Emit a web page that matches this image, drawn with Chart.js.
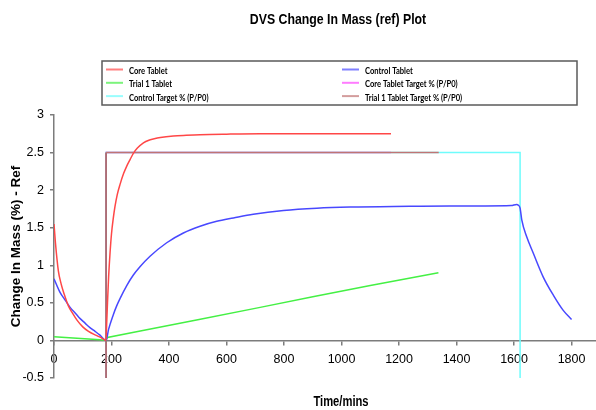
<!DOCTYPE html>
<html>
<head>
<meta charset="utf-8">
<script src="https://cdn.jsdelivr.net/npm/chart.js@4.4.0/dist/chart.umd.min.js"></script>
<style>
  html, body { margin: 0; padding: 0; background: #fff; }
</style>
</head>
<body>
<canvas id="chart" width="596" height="410"></canvas>
<script>
// Core Tablet (time in mins / change in mass %)
const coreTime = [0, 5, 15, 25, 35, 50, 65, 80, 100, 120, 145, 165, 181, 183, 186, 190, 195, 200, 206, 212, 220, 230, 242, 253, 265, 276, 290, 311, 330, 345, 370, 415, 460, 508, 600, 717, 850, 1000, 1172];
const coreMass = [1.55, 1.3, 0.93, 0.75, 0.62, 0.46, 0.36, 0.27, 0.18, 0.12, 0.07, 0.035, 0.0, 0.2, 0.5, 0.85, 1.17, 1.42, 1.62, 1.78, 1.94, 2.08, 2.22, 2.32, 2.41, 2.49, 2.56, 2.63, 2.665, 2.68, 2.70, 2.72, 2.73, 2.738, 2.745, 2.75, 2.75, 2.75, 2.75];

// Control Tablet
const controlTime = [0, 21, 40, 56, 75, 91, 108, 125, 143, 160, 181, 190, 206, 218, 230, 253, 276, 299, 334, 392, 450, 508, 566, 624, 693, 798, 914, 1030, 1238, 1377, 1500, 1590, 1609, 1615, 1621, 1627, 1644, 1667, 1702, 1737, 1771, 1800];
const controlMass = [0.82, 0.64, 0.53, 0.44, 0.36, 0.29, 0.23, 0.17, 0.12, 0.07, 0.0, 0.15, 0.34, 0.46, 0.56, 0.73, 0.87, 0.98, 1.12, 1.30, 1.43, 1.52, 1.585, 1.63, 1.68, 1.73, 1.76, 1.775, 1.785, 1.79, 1.79, 1.795, 1.81, 1.8, 1.76, 1.6, 1.38, 1.16, 0.84, 0.6, 0.4, 0.28];

// Trial 1 Tablet
const trialTime = [0, 40, 80, 120, 160, 181, 186, 300, 500, 717, 900, 1100, 1337];
const trialMass = [0.05, 0.04, 0.03, 0.02, 0.01, 0.0, 0.04, 0.125, 0.275, 0.44, 0.58, 0.73, 0.9];

// target % (P/P0) steps
const coreTargetTime = [181, 181, 1172];
const coreTargetMass = [-0.5, 2.5, 2.5];
const controlTargetTime = [181, 181, 1621, 1621];
const controlTargetMass = [-0.5, 2.5, 2.5, -0.5];
const trialTargetTime = [181, 181, 1338];
const trialTargetMass = [-0.5, 2.5, 2.5];

const xTicks = [0, 200, 400, 600, 800, 1000, 1200, 1400, 1600, 1800];
const yTicks = [-0.5, 0, 0.5, 1, 1.5, 2, 2.5, 3];

const legendRows = [
    ['Core Tablet', 'Control Tablet'],
    ['Trial 1 Tablet', 'Core Tablet Target % (P/P0)'],
    ['Control Target % (P/P0)', 'Trial 1 Tablet Target % (P/P0)']
];

const toPoints = (t, v) => t.map((x, i) => ({ x: x, y: v[i] }));

const line = (label, t, v, color, order) => ({
    label: label,
    data: toPoints(t, v),
    borderColor: color,
    borderWidth: 1.5,
    pointRadius: 0,
    fill: false,
    cubicInterpolationMode: 'monotone',
    order: order
});

const datasets = [
    line('Core Tablet', coreTime, coreMass, '#ff4747', 0),
    line('Control Tablet', controlTime, controlMass, '#4848ff', 0),
    line('Trial 1 Tablet', trialTime, trialMass, '#44f044', 0),
    line('Core Tablet Target % (P/P0)', coreTargetTime, coreTargetMass, '#ff44ff', 3),
    line('Control Target % (P/P0)', controlTargetTime, controlTargetMass, '#6ffcfc', 2),
    line('Trial 1 Tablet Target % (P/P0)', trialTargetTime, trialTargetMass, '#c07474', 1)
];
// straight segments for the trial line and the target steps
datasets.slice(2).forEach(d => { d.cubicInterpolationMode = 'default'; d.tension = 0; });
// the shared vertical step at the start reads redder in the source
datasets[5].segment = {
    borderColor: (c) => c.p0.parsed.x === c.p1.parsed.x ? '#b85050' : undefined
};

// draws squeezed text (the source image is a bit narrow horizontally)
const squeeze = (ctx, text, x, y, sx) => {
    ctx.save();
    ctx.translate(x, y);
    ctx.scale(sx, 1);
    ctx.fillText(text, 0, 0);
    ctx.restore();
};

const background = {
    id: 'background',
    beforeDraw(chart) {
        const { ctx } = chart;
        ctx.save();
        ctx.fillStyle = '#ffffff';
        ctx.fillRect(0, 0, chart.width, chart.height);
        ctx.restore();
    }
};

const titlesAndLegend = {
    id: 'titlesAndLegend',
    afterDraw(chart) {
        const { ctx } = chart;
        ctx.save();
        ctx.fillStyle = '#000000';
        ctx.textAlign = 'center';
        ctx.textBaseline = 'alphabetic';

        ctx.font = 'bold 15px "Liberation Sans"';
        squeeze(ctx, 'DVS Change In Mass (ref) Plot', 338, 24, 0.82);

        ctx.font = 'bold 14px "Liberation Sans"';
        squeeze(ctx, 'Time/mins', 341, 406, 0.8);

        // legend box
        const box = { left: 102, top: 61, width: 475, height: 44 };
        ctx.strokeStyle = '#5a5a5a';
        ctx.lineWidth = 1.5;
        ctx.strokeRect(box.left, box.top, box.width, box.height);

        const colX = [106, 342];
        ctx.font = 'bold 9.5px Lato';
        ctx.textAlign = 'left';
        ctx.textBaseline = 'middle';
        legendRows.forEach((row, r) => {
            const y = 69.5 + r * 13.3;
            row.forEach((label, c) => {
                const ds = chart.data.datasets.find(d => d.label === label);
                ctx.strokeStyle = ds.borderColor;
                ctx.globalAlpha = 0.7;
                ctx.lineWidth = 2;
                ctx.beginPath();
                ctx.moveTo(colX[c], y);
                ctx.lineTo(colX[c] + 17, y);
                ctx.stroke();
                ctx.globalAlpha = 1;
                squeeze(ctx, label, colX[c] + 23, y + 1.5, 0.8);
            });
        });
        ctx.restore();
    }
};

const axisColor = '#7c7c7c';
const tickFont = { family: '"Liberation Sans"', size: 12.5 };

new Chart(document.getElementById('chart'), {
    type: 'line',
    data: { datasets: datasets },
    options: {
        responsive: false,
        animation: false,
        devicePixelRatio: 1,
        layout: { padding: { top: 115, left: 0, right: 0, bottom: 32 } },
        plugins: {
            legend: { display: false },
            title: { display: false },
            tooltip: { enabled: false }
        },
        scales: {
            x: {
                type: 'linear',
                position: { y: 0 },
                min: 0,
                max: 1885,
                afterBuildTicks: (scale) => { scale.ticks = xTicks.map(v => ({ value: v })); },
                grid: { drawOnChartArea: false, tickLength: 4, color: axisColor, lineWidth: 1.5 },
                border: { color: axisColor, width: 1.5 },
                ticks: {
                    color: '#000000',
                    font: tickFont,
                    padding: 8,
                    maxRotation: 0,
                    autoSkip: false,
                    callback: (v) => String(v)
                }
            },
            y: {
                type: 'linear',
                position: 'left',
                min: -0.5,
                max: 3,
                afterBuildTicks: (scale) => { scale.ticks = yTicks.map(v => ({ value: v })); },
                afterFit: (scale) => { scale.width = 54; },
                grid: { drawOnChartArea: false, tickLength: 4, color: axisColor, lineWidth: 1.5 },
                border: { color: axisColor, width: 1.5 },
                ticks: {
                    color: '#000000',
                    font: tickFont,
                    padding: 6,
                    autoSkip: false,
                    callback: (v) => String(v)
                },
                title: {
                    display: true,
                    text: 'Change In Mass (%) - Ref',
                    color: '#000000',
                    font: { family: '"Liberation Sans"', size: 13.5, weight: 'bold' },
                    padding: { top: 8, bottom: 0 }
                }
            }
        }
    },
    plugins: [background, titlesAndLegend]
});
</script>
</body>
</html>
